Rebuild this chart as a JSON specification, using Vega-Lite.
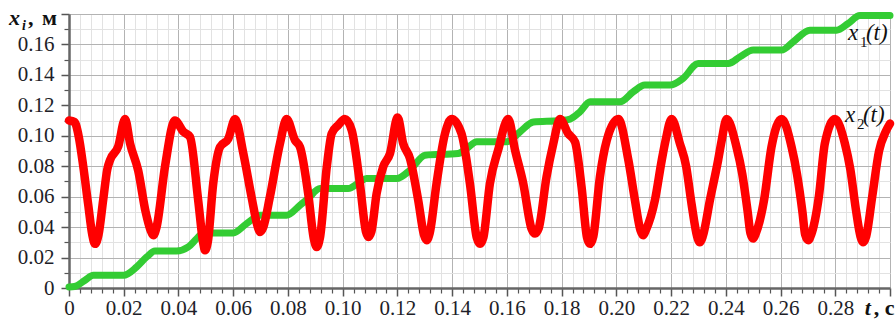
{
  "$schema": "https://vega.github.io/schema/vega-lite/v6.json",
  "width": 821,
  "height": 274,
  "autosize": {"type": "none"},
  "padding": {"left": 69, "top": 14, "right": 5, "bottom": 33},
  "background": "white",
  "config": {
    "view": {"stroke": null},
    "axis": {"labelFont": "Liberation Serif, Times New Roman, serif", "labelFontSize": 21, "labelColor": "#1e1e28"}
  },
  "datasets": {
    "x1": [
      {"t": 0.000, "v": 0.0007}, {"t": 0.002, "v": 0.001}, {"t": 0.0058, "v": 0.005}, {"t": 0.0089, "v": 0.0083},
      {"t": 0.0199, "v": 0.0083}, {"t": 0.0247, "v": 0.0138}, {"t": 0.0284, "v": 0.0204}, {"t": 0.0314, "v": 0.0243},
      {"t": 0.0393, "v": 0.0243}, {"t": 0.0436, "v": 0.027}, {"t": 0.0467, "v": 0.0325}, {"t": 0.0491, "v": 0.0362},
      {"t": 0.060, "v": 0.0362}, {"t": 0.0649, "v": 0.0423}, {"t": 0.0698, "v": 0.0478},
      {"t": 0.0795, "v": 0.0478}, {"t": 0.0844, "v": 0.0544}, {"t": 0.0874, "v": 0.0588}, {"t": 0.0917, "v": 0.0653},
      {"t": 0.102, "v": 0.0653}, {"t": 0.1063, "v": 0.0697}, {"t": 0.1087, "v": 0.0719},
      {"t": 0.1197, "v": 0.0719}, {"t": 0.1246, "v": 0.0774}, {"t": 0.1301, "v": 0.0872},
      {"t": 0.1422, "v": 0.0884}, {"t": 0.1453, "v": 0.0916}, {"t": 0.149, "v": 0.096},
      {"t": 0.160, "v": 0.096}, {"t": 0.1648, "v": 0.1026}, {"t": 0.1697, "v": 0.109},
      {"t": 0.1794, "v": 0.110}, {"t": 0.1831, "v": 0.111}, {"t": 0.1867, "v": 0.1157}, {"t": 0.1904, "v": 0.1223},
      {"t": 0.2013, "v": 0.1223}, {"t": 0.2062, "v": 0.1289}, {"t": 0.2104, "v": 0.1333},
      {"t": 0.2196, "v": 0.1333}, {"t": 0.2244, "v": 0.1377}, {"t": 0.2299, "v": 0.1475},
      {"t": 0.2409, "v": 0.1475}, {"t": 0.2452, "v": 0.1519}, {"t": 0.250, "v": 0.1563},
      {"t": 0.2604, "v": 0.1563}, {"t": 0.2646, "v": 0.1617}, {"t": 0.2707, "v": 0.1694},
      {"t": 0.2805, "v": 0.1694}, {"t": 0.2847, "v": 0.1738}, {"t": 0.289, "v": 0.179}, {"t": 0.300, "v": 0.179}
    ],
    "x2": [
      {"t": 0.000, "v": 0.110}, {"t": 0.002, "v": 0.109}, {"t": 0.0035, "v": 0.100}, {"t": 0.0052, "v": 0.080},
      {"t": 0.007, "v": 0.055}, {"t": 0.0085, "v": 0.035}, {"t": 0.0095, "v": 0.029}, {"t": 0.0108, "v": 0.035},
      {"t": 0.0125, "v": 0.058}, {"t": 0.014, "v": 0.078}, {"t": 0.015, "v": 0.084}, {"t": 0.018, "v": 0.093},
      {"t": 0.0205, "v": 0.111}, {"t": 0.0223, "v": 0.095}, {"t": 0.0253, "v": 0.077}, {"t": 0.028, "v": 0.050},
      {"t": 0.0298, "v": 0.038}, {"t": 0.0308, "v": 0.0346}, {"t": 0.032, "v": 0.040}, {"t": 0.0351, "v": 0.080},
      {"t": 0.0387, "v": 0.110}, {"t": 0.0418, "v": 0.1026}, {"t": 0.0442, "v": 0.0993}, {"t": 0.0472, "v": 0.0577},
      {"t": 0.049, "v": 0.030}, {"t": 0.0497, "v": 0.0248}, {"t": 0.0507, "v": 0.030}, {"t": 0.0527, "v": 0.0686},
      {"t": 0.0552, "v": 0.0927}, {"t": 0.0582, "v": 0.098}, {"t": 0.0607, "v": 0.111}, {"t": 0.0637, "v": 0.0884},
      {"t": 0.0667, "v": 0.0598}, {"t": 0.069, "v": 0.040}, {"t": 0.0698, "v": 0.0368}, {"t": 0.071, "v": 0.040},
      {"t": 0.0734, "v": 0.0598}, {"t": 0.0771, "v": 0.095}, {"t": 0.0795, "v": 0.111}, {"t": 0.0826, "v": 0.097},
      {"t": 0.0844, "v": 0.0927}, {"t": 0.0874, "v": 0.062}, {"t": 0.0895, "v": 0.032}, {"t": 0.0905, "v": 0.027},
      {"t": 0.0917, "v": 0.033}, {"t": 0.0942, "v": 0.0796}, {"t": 0.096, "v": 0.1015}, {"t": 0.0984, "v": 0.107},
      {"t": 0.1008, "v": 0.111}, {"t": 0.1033, "v": 0.1037}, {"t": 0.1063, "v": 0.0686}, {"t": 0.1085, "v": 0.037},
      {"t": 0.1094, "v": 0.0335}, {"t": 0.1105, "v": 0.037}, {"t": 0.1124, "v": 0.062}, {"t": 0.1148, "v": 0.0796},
      {"t": 0.1173, "v": 0.0884}, {"t": 0.1201, "v": 0.112}, {"t": 0.1221, "v": 0.095}, {"t": 0.1246, "v": 0.085},
      {"t": 0.1276, "v": 0.0577}, {"t": 0.1297, "v": 0.035}, {"t": 0.1307, "v": 0.0314}, {"t": 0.1318, "v": 0.036},
      {"t": 0.1343, "v": 0.0686}, {"t": 0.1374, "v": 0.1015}, {"t": 0.1398, "v": 0.111}, {"t": 0.1434, "v": 0.1015},
      {"t": 0.1465, "v": 0.0686}, {"t": 0.149, "v": 0.033}, {"t": 0.1502, "v": 0.029}, {"t": 0.1514, "v": 0.033},
      {"t": 0.1538, "v": 0.0686}, {"t": 0.1568, "v": 0.0905}, {"t": 0.1605, "v": 0.111}, {"t": 0.163, "v": 0.0905},
      {"t": 0.166, "v": 0.0686}, {"t": 0.169, "v": 0.039}, {"t": 0.1703, "v": 0.0358}, {"t": 0.1716, "v": 0.039},
      {"t": 0.1745, "v": 0.073}, {"t": 0.177, "v": 0.095}, {"t": 0.1794, "v": 0.111}, {"t": 0.1824, "v": 0.1015},
      {"t": 0.1849, "v": 0.096}, {"t": 0.1873, "v": 0.0664}, {"t": 0.1893, "v": 0.033}, {"t": 0.1904, "v": 0.029},
      {"t": 0.1916, "v": 0.034}, {"t": 0.194, "v": 0.073}, {"t": 0.1965, "v": 0.097}, {"t": 0.2007, "v": 0.111},
      {"t": 0.2044, "v": 0.084}, {"t": 0.2068, "v": 0.0577}, {"t": 0.2088, "v": 0.038}, {"t": 0.2098, "v": 0.0346},
      {"t": 0.2108, "v": 0.038}, {"t": 0.2141, "v": 0.0577}, {"t": 0.2166, "v": 0.084}, {"t": 0.218, "v": 0.097},
      {"t": 0.2202, "v": 0.111}, {"t": 0.2232, "v": 0.095}, {"t": 0.2255, "v": 0.080}, {"t": 0.2275, "v": 0.055},
      {"t": 0.2295, "v": 0.034}, {"t": 0.2305, "v": 0.030}, {"t": 0.2316, "v": 0.034}, {"t": 0.2342, "v": 0.0577},
      {"t": 0.2372, "v": 0.084}, {"t": 0.2385, "v": 0.097}, {"t": 0.2403, "v": 0.111}, {"t": 0.2439, "v": 0.0927},
      {"t": 0.246, "v": 0.075}, {"t": 0.248, "v": 0.050}, {"t": 0.249, "v": 0.036}, {"t": 0.250, "v": 0.0325},
      {"t": 0.251, "v": 0.036}, {"t": 0.254, "v": 0.058}, {"t": 0.2567, "v": 0.0927}, {"t": 0.2604, "v": 0.111},
      {"t": 0.264, "v": 0.093}, {"t": 0.266, "v": 0.075}, {"t": 0.268, "v": 0.050}, {"t": 0.269, "v": 0.035},
      {"t": 0.2701, "v": 0.0314}, {"t": 0.2712, "v": 0.035}, {"t": 0.274, "v": 0.060}, {"t": 0.2762, "v": 0.095},
      {"t": 0.2799, "v": 0.111}, {"t": 0.2835, "v": 0.095}, {"t": 0.2855, "v": 0.078}, {"t": 0.2875, "v": 0.052},
      {"t": 0.2892, "v": 0.034}, {"t": 0.2902, "v": 0.030}, {"t": 0.2913, "v": 0.034}, {"t": 0.2935, "v": 0.060},
      {"t": 0.296, "v": 0.090}, {"t": 0.2985, "v": 0.103}, {"t": 0.300, "v": 0.108}
    ],
    "notes": [
      {"t": -0.02192, "v": 0.1727, "label": "x", "kind": "title"},
      {"t": 0.2908, "v": -0.01795, "label": "t", "kind": "title"},
      {"t": -0.01717, "v": 0.1694, "label": "i", "kind": "titlesub"},
      {"t": -0.01498, "v": 0.1727, "label": ",", "kind": "titleplain"},
      {"t": -0.00987, "v": 0.1727, "label": "м", "kind": "titleplain"},
      {"t": 0.2941, "v": -0.01795, "label": ", с", "kind": "titleplain"},
      {"t": 0.28462, "v": 0.16285, "label": "x", "kind": "name"},
      {"t": 0.2912, "v": 0.16285, "label": "(t)", "kind": "name"},
      {"t": 0.2890, "v": 0.1583, "label": "1", "kind": "namesub"},
      {"t": 0.28352, "v": 0.10894, "label": "x", "kind": "name"},
      {"t": 0.2901, "v": 0.10894, "label": "(t)", "kind": "name"},
      {"t": 0.2879, "v": 0.10434, "label": "2", "kind": "namesub"}
    ]
  },
  "resolve": {"axis": {"x": "independent", "y": "independent"}},
  "layer": [
    {
      "data": {"name": "x1"},
      "mark": {"type": "line", "color": "#33cc33", "strokeWidth": 7, "interpolate": "monotone", "strokeCap": "round", "strokeJoin": "round"},
      "encoding": {
        "x": {"field": "t", "type": "quantitative", "scale": {"domain": [0, 0.3], "nice": false, "zero": false},
          "axis": {"orient": "bottom", "values": [0.004,0.008,0.012,0.016,0.024,0.028,0.032,0.036,0.044,0.048,0.052,0.056,0.064,0.068,0.072,0.076,0.084,0.088,0.092,0.096,0.104,0.108,0.112,0.116,0.124,0.128,0.132,0.136,0.144,0.148,0.152,0.156,0.164,0.168,0.172,0.176,0.184,0.188,0.192,0.196,0.204,0.208,0.212,0.216,0.224,0.228,0.232,0.236,0.244,0.248,0.252,0.256,0.264,0.268,0.272,0.276,0.284,0.288,0.292,0.296],
            "labels": false, "domain": false, "ticks": true, "tickSize": 5, "tickColor": "#555555", "tickWidth": 1.2, "grid": true, "gridColor": "#e2e2e2", "gridWidth": 1, "title": null}},
        "y": {"field": "v", "type": "quantitative", "scale": {"domain": [0, 0.18], "nice": false, "zero": false},
          "axis": {"orient": "left", "values": [0.01,0.03,0.05,0.07,0.09,0.11,0.13,0.15,0.17],
            "labels": false, "domain": false, "ticks": true, "tickSize": 5, "tickColor": "#555555", "tickWidth": 1.2, "grid": true, "gridColor": "#e2e2e2", "gridWidth": 1, "title": null}}
      }
    },
    {
      "data": {"name": "x2"},
      "mark": {"type": "line", "color": "#ff0000", "strokeWidth": 8.5, "interpolate": "monotone", "strokeCap": "round", "strokeJoin": "round"},
      "encoding": {
        "x": {"field": "t", "type": "quantitative",
          "axis": {"orient": "bottom", "values": [0,0.02,0.04,0.06,0.08,0.1,0.12,0.14,0.16,0.18,0.2,0.22,0.24,0.26,0.28,0.3],
            "labelExpr": "datum.value > 0.299 ? '' : (datum.value == 0 ? '0' : format(datum.value, '.2f'))",
            "labelFont": "Liberation Serif, Times New Roman, serif", "labelFontSize": 21, "labelColor": "#1e1e28",
            "labelBaseline": "alphabetic", "labelPadding": 18, "labelFlush": false, "labelOverlap": false,
            "domain": true, "domainColor": "#666666", "domainWidth": 2.5, "tickSize": 8, "tickColor": "#555555", "tickWidth": 1.5,
            "grid": true, "gridColor": "#b3b3b3", "gridWidth": 1, "title": null}},
        "y": {"field": "v", "type": "quantitative",
          "axis": {"orient": "left", "values": [0,0.02,0.04,0.06,0.08,0.1,0.12,0.14,0.16,0.18],
            "labelExpr": "datum.value > 0.179 ? '' : (datum.value == 0 ? '0' : format(datum.value, '.2f'))",
            "labelFont": "Liberation Serif, Times New Roman, serif", "labelFontSize": 21, "labelColor": "#1e1e28",
            "labelBaseline": "middle", "labelPadding": 7, "labelFlush": false, "labelOverlap": false, "labelAlign": "right",
            "domain": true, "domainColor": "#666666", "domainWidth": 2.5, "tickSize": 8, "tickColor": "#555555", "tickWidth": 1.5,
            "grid": true, "gridColor": "#b3b3b3", "gridWidth": 1, "title": null}}
      }
    },
    {
      "data": {"name": "notes"},
      "transform": [{"filter": "datum.kind == 'title'"}],
      "mark": {"type": "text", "font": "Liberation Serif", "fontSize": 22, "fontStyle": "italic", "fontWeight": "bold", "align": "left", "baseline": "alphabetic", "color": "#111111"},
      "encoding": {"x": {"field": "t", "type": "quantitative", "axis": null}, "y": {"field": "v", "type": "quantitative", "axis": null}, "text": {"field": "label"}}
    },
    {
      "data": {"name": "notes"},
      "transform": [{"filter": "datum.kind == 'titlesub'"}],
      "mark": {"type": "text", "font": "Liberation Serif", "fontSize": 14, "fontStyle": "italic", "fontWeight": "bold", "align": "left", "baseline": "alphabetic", "color": "#111111"},
      "encoding": {"x": {"field": "t", "type": "quantitative", "axis": null}, "y": {"field": "v", "type": "quantitative", "axis": null}, "text": {"field": "label"}}
    },
    {
      "data": {"name": "notes"},
      "transform": [{"filter": "datum.kind == 'titleplain'"}],
      "mark": {"type": "text", "font": "Liberation Serif", "fontSize": 22, "fontWeight": "bold", "align": "left", "baseline": "alphabetic", "color": "#111111"},
      "encoding": {"x": {"field": "t", "type": "quantitative", "axis": null}, "y": {"field": "v", "type": "quantitative", "axis": null}, "text": {"field": "label"}}
    },
    {
      "data": {"name": "notes"},
      "transform": [{"filter": "datum.kind == 'name'"}],
      "mark": {"type": "text", "font": "Liberation Serif", "fontSize": 23, "fontStyle": "italic", "align": "left", "baseline": "alphabetic", "color": "#111111"},
      "encoding": {"x": {"field": "t", "type": "quantitative", "axis": null}, "y": {"field": "v", "type": "quantitative", "axis": null}, "text": {"field": "label"}}
    },
    {
      "data": {"name": "notes"},
      "transform": [{"filter": "datum.kind == 'namesub'"}],
      "mark": {"type": "text", "font": "Liberation Serif", "fontSize": 15, "align": "left", "baseline": "alphabetic", "color": "#111111"},
      "encoding": {"x": {"field": "t", "type": "quantitative", "axis": null}, "y": {"field": "v", "type": "quantitative", "axis": null}, "text": {"field": "label"}}
    }
  ]
}
